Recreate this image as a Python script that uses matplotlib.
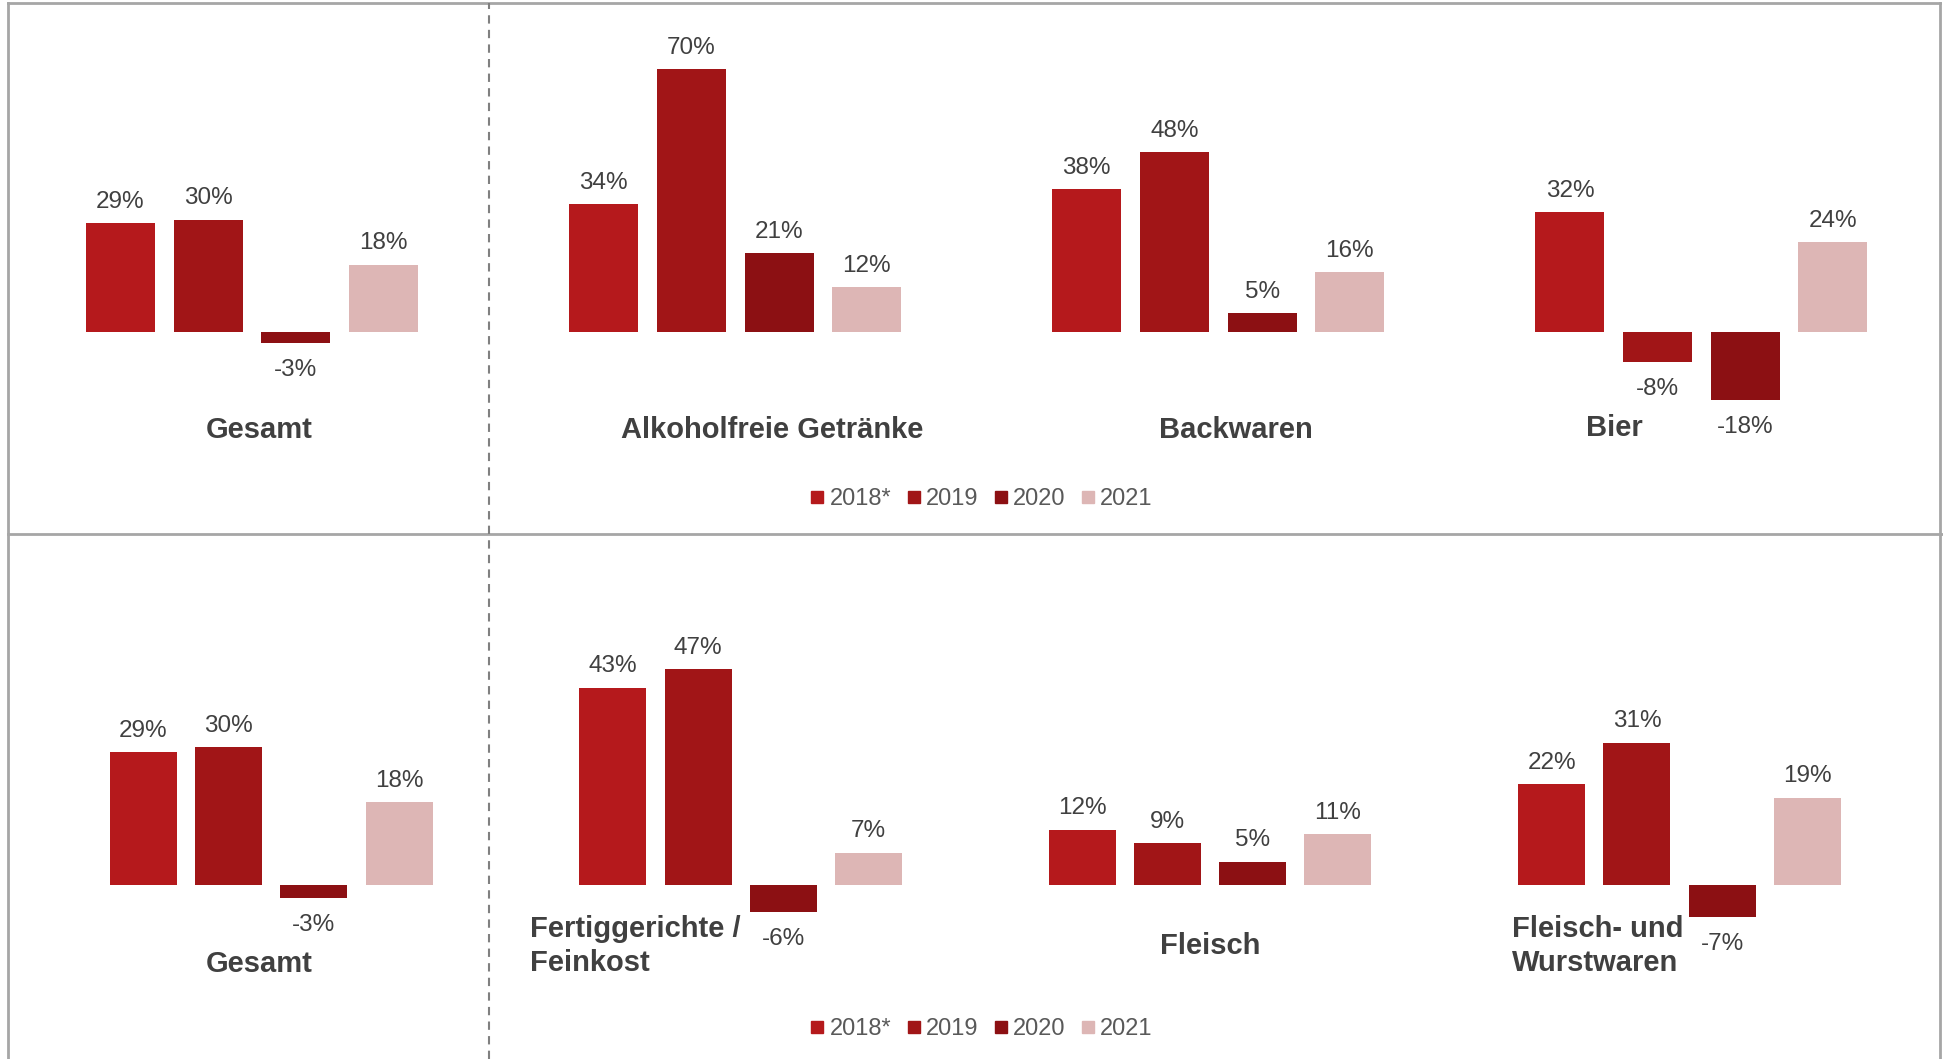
import numpy as np
import matplotlib
matplotlib.use('Agg')
import matplotlib.pyplot as plt
from matplotlib.lines import Line2D

# growth rates per category, top panel
top_categories = ['Gesamt', 'Alkoholfreie Getränke', 'Backwaren', 'Bier']
top_2018 = [29, 34, 38, 32]
top_2019 = [30, 70, 48, -8]
top_2020 = [-3, 21, 5, -18]
top_2021 = [18, 12, 16, 24]

# growth rates per category, bottom panel
bottom_categories = ['Gesamt', 'Fertiggerichte /\nFeinkost', 'Fleisch',
                     'Fleisch- und\nWurstwaren']
bottom_2018 = [29, 43, 12, 22]
bottom_2019 = [30, 47, 9, 31]
bottom_2020 = [-3, -6, 5, -7]
bottom_2021 = [18, 7, 11, 19]

years = ['2018*', '2019', '2020', '2021']
colors = ['#B5191C', '#A11517', '#8C1013', '#DDB6B5']

plt.rcParams['font.family'] = ['Liberation Sans', 'DejaVu Sans']

VALUE_COLOR = '#404040'
LEGEND_COLOR = '#595959'
FRAME_COLOR = '#A6A6A6'


def grouped_bars(ax, series, spacing=0.1815, width=0.1428):
    """
    Parameters
    ----------
    ax : axes to draw on
    series : list of value lists, one per year
    spacing : distance between bar centres within a category
    width : bar width
    """
    ind = np.arange(len(series[0]))
    n = len(series)
    for i, vals in enumerate(series):
        x = ind + (i - (n - 1) / 2) * spacing
        ax.bar(x, vals, width, color=colors[i], label=years[i])
        for xi, v in zip(x, vals):
            if v >= 0:
                ax.annotate(f'{v}%', (xi, v), xytext=(0, 11), textcoords='offset points',
                            ha='center', va='baseline', fontsize=17.5, color=VALUE_COLOR)
            else:
                ax.annotate(f'{v}%', (xi, v), xytext=(0, -11.5), textcoords='offset points',
                            ha='center', va='top', fontsize=17.5, color=VALUE_COLOR)
    ax.set_xlim(-0.5, len(ind) - 0.5)
    ax.axis('off')


def category_labels(ax, names, layout):
    """
    layout : list of (x offset, alignment, y in axes fraction) per category
    """
    for i, (name, (dx, ha, y)) in enumerate(zip(names, layout)):
        ax.text(i + dx, y, name, transform=ax.get_xaxis_transform(), ha=ha, va='center',
                fontsize=21, fontweight='bold', color=VALUE_COLOR, linespacing=1.3)


def add_legend(fig, y):
    handles = [Line2D([], [], marker='s', linestyle='none', markersize=8.5,
                      markerfacecolor=c, markeredgecolor=c) for c in colors]
    fig.legend(handles, years, loc='center', bbox_to_anchor=(0.5045, y), ncol=4,
               frameon=False, fontsize=17, labelcolor=LEGEND_COLOR,
               handlelength=0.8, handletextpad=0.12, columnspacing=0.55)


def main():
    fig = plt.figure(figsize=(19.43, 10.59), dpi=100)

    # top row
    ax_top = fig.add_axes([0.0054, 0.4958, 0.9946, 0.5042])
    grouped_bars(ax_top, [top_2018, top_2019, top_2020, top_2021])
    ax_top.set_ylim(-53.8, 88.5)
    category_labels(ax_top, top_categories,
                    [(0.015, 'center', 0.194), (0.077, 'center', 0.194),
                     (0.036, 'center', 0.194), (-0.18, 'center', 0.198)])
    add_legend(fig, 0.529)

    # bottom row
    ax_bot = fig.add_axes([0.0188, 0.0, 0.9664, 0.4958])
    grouped_bars(ax_bot, [bottom_2018, bottom_2019, bottom_2020, bottom_2021])
    ax_bot.set_ylim(-38.1, 76.6)
    category_labels(ax_bot, bottom_categories,
                    [(-0.026, 'center', 0.180), (-0.449, 'left', 0.215),
                     (0.0, 'center', 0.215), (-0.356, 'left', 0.215)])
    add_legend(fig, 0.0284)

    # panel frame
    frame = dict(color=FRAME_COLOR, lw=2, transform=fig.transFigure)
    fig.add_artist(Line2D([0.0041, 0.0041], [0.0, 0.9972], **frame))
    fig.add_artist(Line2D([0.0041, 0.9985], [0.9972, 0.9972], **frame))
    fig.add_artist(Line2D([0.9985, 0.9985], [0.0, 0.9972], **frame))
    fig.add_artist(Line2D([0.0041, 1.0], [0.4958, 0.4958], **frame))
    fig.add_artist(Line2D([0.2517, 0.2517], [0.0, 0.9972], color='#808080', lw=1.5,
                          linestyle=(0, (4, 3)), transform=fig.transFigure))

    fig.savefig('out.png', dpi=100, facecolor='white')


main()
